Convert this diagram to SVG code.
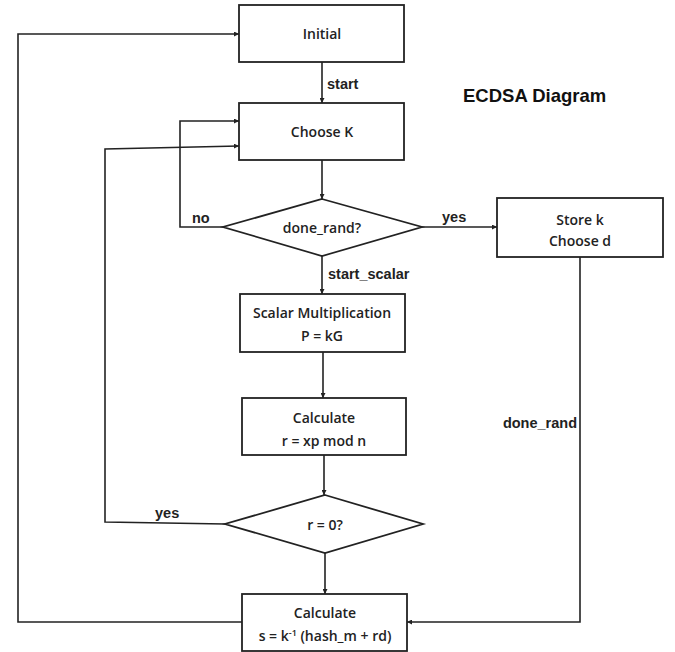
<svg xmlns="http://www.w3.org/2000/svg" width="675" height="652" viewBox="0 0 675 652">
<style>
.box{fill:#fff;stroke:#222;stroke-width:1.8}
.ln{fill:none;stroke:#222;stroke-width:1.6}
.arr{marker-end:url(#ah)}
.t{font-family:"Open Sans","Liberation Sans",sans-serif;font-weight:600;font-size:14px;fill:#222;text-anchor:middle}
.lb{font-family:"Liberation Sans",Arial,sans-serif;font-weight:bold;font-size:14.5px;fill:#222}
.title{font-family:"Liberation Sans",Arial,sans-serif;font-weight:bold;font-size:18.5px;fill:#111}
</style>
<defs>
<marker id="ah" viewBox="0 0 10 10" refX="10" refY="5" markerWidth="5" markerHeight="5" orient="auto" markerUnits="userSpaceOnUse">
<path d="M0,0 L10,5 L0,10 z" fill="#222"/>
</marker>
</defs>
<rect width="675" height="652" fill="#fff"/>
<text class="title" x="463" y="102">ECDSA Diagram</text>
<g id="connectors">
<path class="ln arr" d="M322,62 V103"/>
<path class="ln arr" d="M322,160 V199"/>
<path class="ln arr" d="M223,227 H180 V121 H239"/>
<path class="ln arr" d="M422,227 H497"/>
<path class="ln arr" d="M322,256 V294"/>
<path class="ln arr" d="M323,352 V398"/>
<path class="ln arr" d="M324,455 V495"/>
<path class="ln arr" d="M225,524 L105,522 V149 L239,146"/>
<path class="ln arr" d="M325,553 V594"/>
<path class="ln arr" d="M580,257 V622 H407"/>
<path class="ln arr" d="M242,622 H18 V34 H239"/>
<text class="lb" x="327" y="89">start</text>
<text class="lb" x="192" y="223">no</text>
<text class="lb" x="442" y="222">yes</text>
<text class="lb" x="328" y="279">start_scalar</text>
<text class="lb" x="577" y="428" text-anchor="end">done_rand</text>
<text class="lb" x="155" y="518">yes</text>
</g>
<g id="initial">
<rect class="box" x="239" y="5" width="165" height="57"/>
<text class="t" x="322" y="39">Initial</text>
</g>
<g id="chooseK">
<rect class="box" x="239" y="103" width="165" height="57"/>
<text class="t" x="322" y="137">Choose K</text>
</g>
<g id="doneRand">
<polygon class="box" points="322,199 422,227 322,256 223,227"/>
<text class="t" x="322" y="233">done_rand?</text>
</g>
<g id="storeK">
<rect class="box" x="497" y="198" width="166" height="59"/>
<text class="t" x="580" y="225">Store k</text>
<text class="t" x="580" y="246">Choose d</text>
</g>
<g id="scalar">
<rect class="box" x="240" y="294" width="165" height="58"/>
<text class="t" x="322" y="318">Scalar Multiplication</text>
<text class="t" x="322" y="341">P = kG</text>
</g>
<g id="calcR">
<rect class="box" x="242" y="398" width="164" height="57"/>
<text class="t" x="324" y="423">Calculate</text>
<text class="t" x="324" y="446">r = xp mod n</text>
</g>
<g id="rZero">
<polygon class="box" points="325,495 423,524 325,553 225,524"/>
<text class="t" x="325" y="530">r = 0?</text>
</g>
<g id="calcS">
<rect class="box" x="242" y="594" width="165" height="57"/>
<text class="t" x="325" y="618">Calculate</text>
<text class="t" x="325" y="641">s = k<tspan font-size="9" dy="-5">-1</tspan><tspan dy="5"> (hash_m + rd)</tspan></text>
</g>
</svg>
